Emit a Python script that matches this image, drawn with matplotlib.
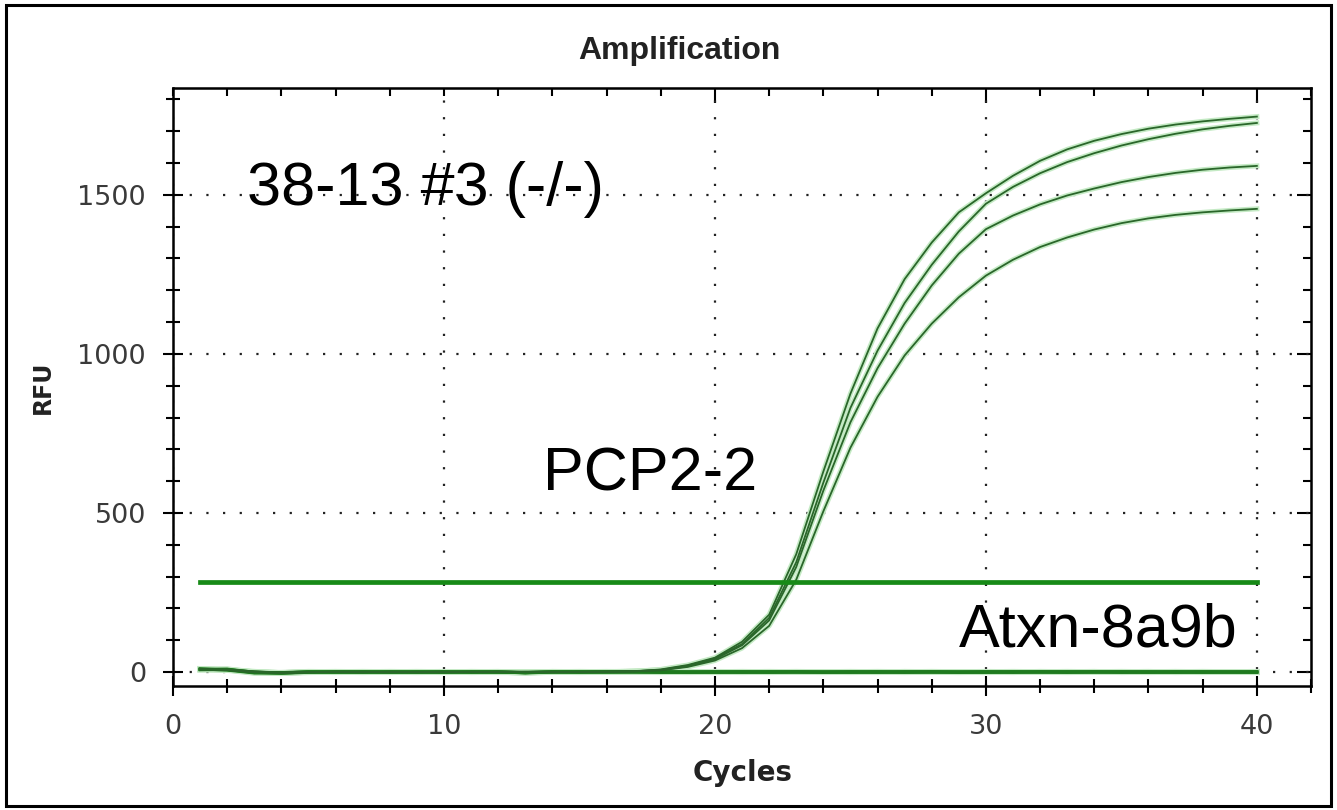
import matplotlib
matplotlib.use("Agg")
import matplotlib.pyplot as plt
from matplotlib.ticker import MultipleLocator
from matplotlib.patches import Rectangle

cycles = list(range(1, 41))

# PCP2-2 wells (amplify)
well_a = [9, 7, 1, -2, -1, 0, 1, 0, -1, 0, 1, 0, 0, -1, 0, 1, 2,
          8, 22, 45, 95, 180, 370, 630, 875, 1080, 1235, 1350, 1445, 1505,
          1560, 1607, 1643, 1670, 1691, 1708, 1721, 1731, 1739, 1746]
well_b = [8, 6, 0, -3, -1, 1, 0, 0, 0, -1, 0, 1, 0, 0, 1, 1, 2,
          7, 20, 43, 88, 170, 345, 595, 830, 1010, 1160, 1280, 1385, 1472,
          1525, 1568, 1603, 1631, 1655, 1675, 1692, 1706, 1717, 1726]
well_c = [7, 8, 2, -2, 0, 0, -1, 1, 0, 0, 0, 0, 1, 0, 0, 1, 3,
          6, 18, 40, 84, 162, 330, 570, 785, 955, 1095, 1215, 1315, 1392,
          1435, 1470, 1498, 1520, 1540, 1556, 1569, 1579, 1586, 1591]
well_d = [10, 6, -1, -2, 0, 1, 0, -1, 0, 1, 0, 0, 0, 1, 0, 0, 2,
          5, 16, 36, 75, 145, 290, 505, 705, 865, 995, 1095, 1178, 1246,
          1296, 1336, 1366, 1391, 1411, 1426, 1437, 1445, 1451, 1456]

# Atxn-8a9b wells (flat)
flat_1 = [9, 8, -2, -4, -1, 0, 1, 0, -1, 0, 0, 1, -3, 0, 0, 1, 0, -1, 0, 1,
          0, -1, 0, 0, 1, 0, -1, 0, 0, 1, 0, 0, -1, 0, 1, 0, 0, -1, 0, 0]
flat_2 = [7, 9, -1, -3, 0, 1, 0, -1, 0, 1, -1, 0, -2, 1, 0, 0, 1, 0, -1, 0,
          1, 0, 0, -1, 0, 1, 0, 0, -1, 0, 1, 0, 0, 1, -1, 0, 1, 0, 0, -1]
flat_3 = [10, 6, -3, -2, 1, 0, -1, 0, 1, 0, 0, -1, -1, 0, 1, 0, 0, 1, 0, -1,
          0, 1, 0, 0, -1, 0, 0, 1, 0, 0, -1, 1, 0, 0, 0, -1, 0, 1, 0, 0]
flat_4 = [8, 7, 0, -3, 0, -1, 0, 1, 0, -1, 1, 0, -2, 0, -1, 0, 1, 0, 0, 0,
          -1, 0, 1, 0, 0, -1, 1, 0, 0, -1, 0, 0, 1, 0, 0, 1, -1, 0, 0, 1]

threshold = 283
labels = ["38-13 #3 (-/-)", "PCP2-2", "Atxn-8a9b"]

fig = plt.figure(figsize=(13.37, 8.1), dpi=100)
ax = fig.add_axes([0.1294, 0.1531, 0.8512, 0.7383])

for f in [flat_1, flat_2, flat_3, flat_4]:
	ax.plot(cycles, f, color="#c4e8c4", lw=4.0, zorder=2)
	ax.plot(cycles, f, color="#1f7a1f", lw=2.2, zorder=3)

for w in [well_a, well_b, well_c, well_d]:
	ax.plot(cycles, w, color="#c4eac4", lw=3.6, zorder=2)
	ax.plot(cycles, w, color="#2a662a", lw=1.3, zorder=4)

ax.plot([cycles[0], cycles[-1]], [threshold, threshold], color="#178a17", lw=3.4, zorder=5)

ax.set_xlim(0, 42)
ax.set_ylim(-44, 1836)
ax.set_xticks([0, 10, 20, 30, 40])
ax.set_yticks([0, 500, 1000, 1500])
ax.xaxis.set_minor_locator(MultipleLocator(2))
ax.yaxis.set_minor_locator(MultipleLocator(100))

ax.tick_params(which="major", direction="inout", length=15, width=1.5, colors="black",
	labelsize=19.5, labelcolor="#3a3a3a")
ax.tick_params(which="minor", direction="inout", length=10, width=1.5)
ax.tick_params(axis="x", which="major", pad=13)
ax.tick_params(axis="y", which="major", pad=12)

for s in ax.spines.values():
	s.set_linewidth(1.8)

ax.grid(which="major", color="#222222", linestyle=(0, (1, 6.5)), linewidth=1.6)
ax.set_axisbelow(True)

# inward ticks on top and right
top = ax.secondary_xaxis("top")
top.set_xticks([20, 30, 40])
top.xaxis.set_minor_locator(MultipleLocator(2))
top.tick_params(which="major", direction="in", length=11, width=1.5, labeltop=False)
top.tick_params(which="minor", direction="in", length=6, width=1.5)
right = ax.secondary_yaxis("right")
right.set_yticks([0, 500, 1000, 1500])
right.yaxis.set_minor_locator(MultipleLocator(100))
right.tick_params(which="major", direction="in", length=10, width=1.5, labelright=False)
right.tick_params(which="minor", direction="in", length=6, width=1.5)

ax.text(2.73, 1469, labels[0], fontsize=44, family="Liberation Sans", ha="left", va="baseline", zorder=6)
ax.text(13.65, 572, labels[1], fontsize=44, family="Liberation Sans", ha="left", va="baseline", zorder=6)
ax.text(29.0, 79, labels[2], fontsize=44, family="Liberation Sans", ha="left", va="baseline", zorder=6)

fig.text(0.508, 0.927, "Amplification", fontsize=23, fontweight="bold",
	family="Liberation Sans", ha="center", va="baseline", color="#222222")
fig.text(0.5555, 0.0457, "Cycles", fontsize=20, fontweight="bold",
	family="DejaVu Sans", ha="center", va="center", color="#222222")
fig.text(0.032, 0.522, "RFU", fontsize=17, fontweight="bold", rotation=90,
	family="DejaVu Sans", ha="center", va="center", color="#222222")

fig.add_artist(Rectangle((0.0045, 0.0049), 0.991, 0.9889, transform=fig.transFigure,
	fill=False, lw=2.2, ec="black"))

plt.savefig("out.png", dpi=100)
plt.close()
